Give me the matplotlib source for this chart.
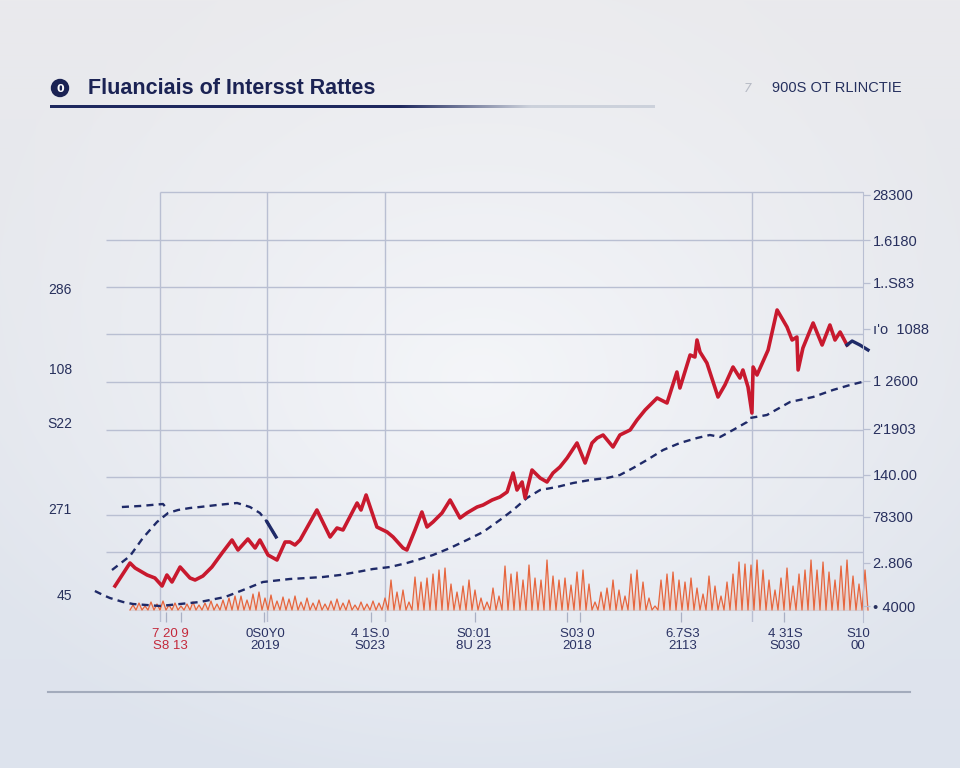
import matplotlib
matplotlib.use("Agg")
import matplotlib.pyplot as plt
import numpy as np
from matplotlib import font_manager as fm
from matplotlib.patches import Circle

# fonts
names = {f.name for f in fm.fontManager.ttflist}
narrow = "Liberation Sans Narrow" if "Liberation Sans Narrow" in names else "Liberation Sans"

# ---------------- data ----------------
# red rate line (year, rate %)
red_year = [2000.50, 2001.00, 2001.17, 2001.57, 2001.83, 2002.07, 2002.23, 2002.40, 2002.67, 2003.00,
            2003.17, 2003.43, 2003.73, 2004.07, 2004.40, 2004.60, 2004.93, 2005.17, 2005.33, 2005.60,
            2005.90, 2006.17, 2006.33, 2006.50, 2006.67, 2007.23, 2007.67, 2007.90, 2008.10, 2008.57,
            2008.70, 2008.87, 2009.23, 2009.57, 2009.77, 2010.10, 2010.23, 2010.50, 2010.73, 2010.90,
            2011.10, 2011.40, 2011.67, 2012.00, 2012.23, 2012.57, 2012.77, 2013.07, 2013.33, 2013.57,
            2013.77, 2013.90, 2014.07, 2014.17, 2014.40, 2014.67, 2014.90, 2015.10, 2015.33, 2015.57,
            2015.90, 2016.17, 2016.40, 2016.57, 2016.77, 2017.10, 2017.33, 2017.67, 2017.90, 2018.17,
            2018.57, 2018.90, 2019.23, 2019.33, 2019.67, 2019.83, 2019.90, 2020.00, 2020.23, 2020.60,
            2020.83, 2021.10, 2021.33, 2021.43, 2021.60, 2021.73, 2021.77, 2021.90, 2022.27, 2022.57,
            2022.90, 2023.07, 2023.23, 2023.27, 2023.43, 2023.77, 2024.07, 2024.33, 2024.50, 2024.67,
            2024.90]
red_rate = [0.48, 0.94, 0.84, 0.70, 0.64, 0.48, 0.70, 0.56, 0.86, 0.64,
            0.60, 0.68, 0.86, 1.14, 1.40, 1.20, 1.42, 1.24, 1.40, 1.10,
            1.00, 1.36, 1.36, 1.30, 1.40, 2.00, 1.46, 1.64, 1.60, 2.14,
            2.00, 2.30, 1.66, 1.56, 1.46, 1.24, 1.20, 1.60, 1.96, 1.66,
            1.76, 1.94, 2.20, 1.84, 1.94, 2.06, 2.10, 2.20, 2.26, 2.36,
            2.74, 2.40, 2.56, 2.24, 2.80, 2.64, 2.56, 2.74, 2.86, 3.04,
            3.34, 2.94, 3.34, 3.44, 3.50, 3.26, 3.50, 3.60, 3.80, 4.00,
            4.24, 4.14, 4.76, 4.44, 5.10, 5.06, 5.40, 5.16, 4.94, 4.26,
            4.50, 4.86, 4.64, 4.80, 4.46, 3.94, 4.86, 4.70, 5.20, 6.00,
            5.66, 5.40, 5.46, 4.80, 5.24, 5.74, 5.30, 5.70, 5.40, 5.56,
            5.30]

# short navy tail at the end of the red line
tail_year = [2024.90, 2025.07, 2025.33, 2025.60]
tail_rate = [5.30, 5.38, 5.30, 5.20]

# dashed navy hump (early years)
hump_year = [2000.40, 2001.00, 2001.43, 2001.90, 2002.27, 2002.60, 2003.00, 2003.33, 2003.90,
             2004.57, 2005.00, 2005.33, 2005.57, 2005.77, 2005.87]
hump_rate = [0.80, 1.08, 1.44, 1.76, 1.94, 2.00, 2.04, 2.06, 2.10,
             2.14, 2.06, 1.94, 1.76, 1.56, 1.46]

flat_year = [2000.73, 2001.33, 2002.10, 2002.27]
flat_rate = [2.06, 2.08, 2.12, 2.00]

# dashed navy trend line
trend_year = [1999.83, 2000.10, 2000.33, 2000.77, 2001.10, 2002.00, 2003.33, 2004.17, 2004.77, 2005.10,
              2005.43, 2006.33, 2006.90, 2007.43, 2008.00, 2008.57, 2009.10, 2009.67, 2010.23, 2010.57,
              2011.10, 2011.67, 2012.23, 2012.77, 2013.33, 2013.77, 2014.23, 2014.67, 2015.23, 2015.77,
              2016.33, 2016.90, 2017.33, 2017.77, 2018.23, 2018.77, 2019.33, 2019.90, 2020.33, 2020.67,
              2021.10, 2021.57, 2021.67, 2022.23, 2023.00, 2023.77, 2024.43, 2025.00, 2025.40]
trend_rate = [0.38, 0.30, 0.24, 0.16, 0.12, 0.08, 0.16, 0.26, 0.40, 0.48,
              0.56, 0.62, 0.64, 0.66, 0.70, 0.76, 0.82, 0.86, 0.94, 1.00,
              1.10, 1.24, 1.40, 1.56, 1.80, 2.00, 2.24, 2.40, 2.46, 2.54,
              2.60, 2.64, 2.70, 2.84, 3.00, 3.20, 3.34, 3.44, 3.50, 3.46,
              3.60, 3.76, 3.84, 3.90, 4.16, 4.26, 4.40, 4.50, 4.56]

# orange volume spikes (peak heights, evenly spaced from 2001.1 to 2025.5)
spike_start, spike_end = 2001.10, 2025.50
spike_peaks = [0.10, 0.14, 0.08, 0.16, 0.12, 0.18, 0.10, 0.14, 0.08, 0.12, 0.16, 0.10, 0.14, 0.18, 0.12,
               0.20, 0.24, 0.28,
               0.28, 0.20, 0.32, 0.36, 0.24, 0.30, 0.18, 0.26, 0.22, 0.28, 0.16, 0.24, 0.14, 0.20, 0.12,
               0.18, 0.22, 0.14, 0.20, 0.10, 0.16, 0.12, 0.18, 0.14, 0.24,
               0.60, 0.36, 0.40, 0.16, 0.66, 0.56, 0.64, 0.72, 0.80, 0.84,
               0.52, 0.36, 0.48, 0.60, 0.40, 0.24, 0.16, 0.44, 0.28, 0.88,
               0.72, 0.76, 0.60, 0.90, 0.64, 0.60, 1.00, 0.68, 0.60, 0.64,
               0.50, 0.76, 0.80, 0.52, 0.16, 0.36, 0.44, 0.60, 0.40, 0.28,
               0.72, 0.80, 0.56, 0.24, 0.08, 0.60, 0.72, 0.76, 0.60, 0.56,
               0.64, 0.44, 0.32, 0.68, 0.48, 0.28, 0.56, 0.72, 0.96, 0.92,
               0.90, 1.00, 0.80, 0.60, 0.40, 0.64, 0.84, 0.48, 0.72, 0.80,
               1.00, 0.80, 0.96, 0.76, 0.60, 0.88, 1.00, 0.68, 0.52, 0.80]

# grid
hgrid = [8.36, 7.40, 6.46, 5.52, 4.56, 3.60, 2.66, 1.90, 1.16]
vgrid = [2002.0, 2005.57, 2009.5, 2021.73]

# axis labels (garbled, as in the picture)
left_pos = [6.44, 4.84, 3.76, 2.04, 0.32]
left_labels = ["286", "108", "S22", "271", "45"]
right_pos = [8.30, 7.40, 6.54, 5.62, 4.58, 3.62, 2.70, 1.86, 0.94, 0.08]
right_labels = ["28300", "1.6180", "1..S83", "ı'o  1088", "1 2600", "2'1903", "140.00", "78300",
                "2..806", "• 4000"]
x_pos = [2002.33, 2005.5, 2009.0, 2012.47, 2015.9, 2019.43, 2022.83, 2025.27]
x_row1 = ["7 20 9", "0S0Y0", "4 1S.0", "S0:01", "S03 0", "6.7S3", "4 31S", "S10"]
x_row2 = ["S8 13", "2019", "S023", "8U 23", "2018", "2113", "S030", "00"]
small_ticks = [2002.2, 2002.7, 2005.47, 2009.03, 2012.5, 2015.57, 2016.0, 2019.37, 2022.8]

title = "Fluanciais of Intersst Rattes"
subtitle = "900S OT RLINCTIE"

navy = "#1d2758"
red = "#c8192e"
gridc = "#b9bfd2"

# ---------------- figure ----------------
fig = plt.figure(figsize=(9.6, 7.68), dpi=100)

# background gradient
bg = fig.add_axes([0, 0, 1, 1], zorder=0)
H, W = 768, 960
yy, xx = np.mgrid[0:H, 0:W]
v = (yy / H)[..., None]
top = np.array([234, 234, 237]) / 255
bot = np.array([221, 227, 237]) / 255
img = top * (1 - v) + bot * v
r = np.sqrt(((xx - 480) / 560.0) ** 2 + ((yy - 380) / 430.0) ** 2)
light = np.clip(1 - r, 0, 1)[..., None] * 0.9
img = img * (1 - light) + np.array([246, 247, 250]) / 255 * light
bg.imshow(img, aspect="auto", extent=[0, W, H, 0])
bg.axis("off")

# main chart
L, R, T, B = 90, 863, 185, 622
ax = fig.add_axes([L / W, 1 - B / H, (R - L) / W, (B - T) / H], zorder=2)
ax.set_facecolor("none")
ax.set_xlim(1999.667, 2025.433)
ax.set_ylim(-0.24, 8.50)
for s in ax.spines.values():
    s.set_visible(False)

ax.hlines(hgrid[0], 2002.0, 2025.43, color=gridc, lw=1.0, zorder=1)
ax.hlines(hgrid[1:], 2000.2, 2025.43, color=gridc, lw=1.0, zorder=1)
ax.vlines(vgrid, -0.24, hgrid[0], color=gridc, lw=1.0, zorder=1)
ax.hlines(0, 2001.0, 2025.43, color="#cfd3de", lw=0.8, zorder=1)
ax.vlines(small_ticks, -0.24, -0.04, color="#a9b0c4", lw=0.9, zorder=1, clip_on=False)

# orange spikes
px = np.linspace(spike_start, spike_end, len(spike_peaks))
step = px[1] - px[0]
sx, sy = [], []
for xv, h in zip(px, spike_peaks):
    sx += [xv - step / 2, xv]
    sy += [0.0, h]
sx.append(px[-1] + step / 2)
sy.append(0.0)
ax.fill_between(sx, 0, sy, color="#f3b9a2", alpha=0.35, lw=0, zorder=2, clip_on=False)
ax.plot(sx, sy, color="#e6653d", lw=0.9, zorder=3, clip_on=False)

# navy dashed lines
dash = dict(color="#1f2a68", lw=1.7, dashes=(3, 2.2), zorder=4, clip_on=False)
ax.plot(trend_year, trend_rate, **dash)
ax.plot(hump_year, hump_rate, **dash)
ax.plot(flat_year, flat_rate, **dash)
ax.plot(hump_year[-3:], hump_rate[-3:], color="#1f2a68", lw=2.4, zorder=4)

# red line + tail
ax.plot(red_year, red_rate, color=red, lw=2.6, zorder=5, solid_joinstyle="round")
ax.plot(tail_year, tail_rate, color="#1f2a68", lw=2.4, zorder=5, clip_on=False)

# ticks
ax.set_yticks(left_pos, left_labels)
ax.tick_params(axis="y", length=0, pad=13, labelsize=10, labelcolor="#27305c")
for t in ax.get_yticklabels():
    t.set_fontfamily("Liberation Sans")

ax.set_xticks(x_pos, [a + "\n" + b for a, b in zip(x_row1, x_row2)])
ax.tick_params(axis="x", length=0, pad=4, labelsize=9.5, labelcolor="#2a3263")
for t in ax.get_xticklabels():
    t.set_fontfamily("Liberation Sans")
    t.set_linespacing(1.0)
ax.get_xticklabels()[0].set_color("#c4293b")

tw = ax.twinx()
tw.set_ylim(ax.get_ylim())
tw.set_facecolor("none")
for k, s in tw.spines.items():
    s.set_visible(k == "right")
tw.spines["right"].set_color(gridc)
tw.spines["right"].set_bounds(-0.24, hgrid[0])
tw.set_yticks(right_pos, right_labels)
tw.tick_params(axis="y", length=5, width=0.9, color=gridc, pad=2, labelsize=10.5, labelcolor="#28305e")
for t in tw.get_yticklabels():
    t.set_fontfamily("Liberation Sans")

# overlay decorations (pixel coords)
ov = fig.add_axes([0, 0, 1, 1], zorder=3)
ov.axis("off")

ov.add_patch(Circle((60, 88), 8.5, color="#1b2354"))
ov.text(60, 88.5, "0", color="white", fontsize=8, fontweight="bold", ha="center", va="center")
ov.text(88, 88, title, fontsize=15.5, fontweight="bold", color="#1b2354", family=narrow,
        ha="left", va="center")

# title underline: navy fading to light grey
c0 = np.array([0.12, 0.16, 0.37])
c1 = np.array([0.80, 0.82, 0.86])
ux = np.linspace(50, 655, 300)
f = np.clip((ux - 400) / 130.0, 0, 1)[:, None]
strip = (c0 * (1 - f) + c1 * f)[None, :, :]
ov.imshow(strip, aspect="auto", extent=[50, 655, 108.2, 105.8], interpolation="bilinear")

ov.text(748, 88, "7", fontsize=9, color="#b8bcc6", style="italic", ha="center", va="center")
ov.text(772, 88, subtitle, fontsize=10.5, color="#25305e", family=narrow, ha="left", va="center")

ov.plot([48, 910], [692, 692], color="#a3abbc", lw=1.5)
ov.set_xlim(0, W)
ov.set_ylim(H, 0)

fig.savefig("out.png", dpi=100)
